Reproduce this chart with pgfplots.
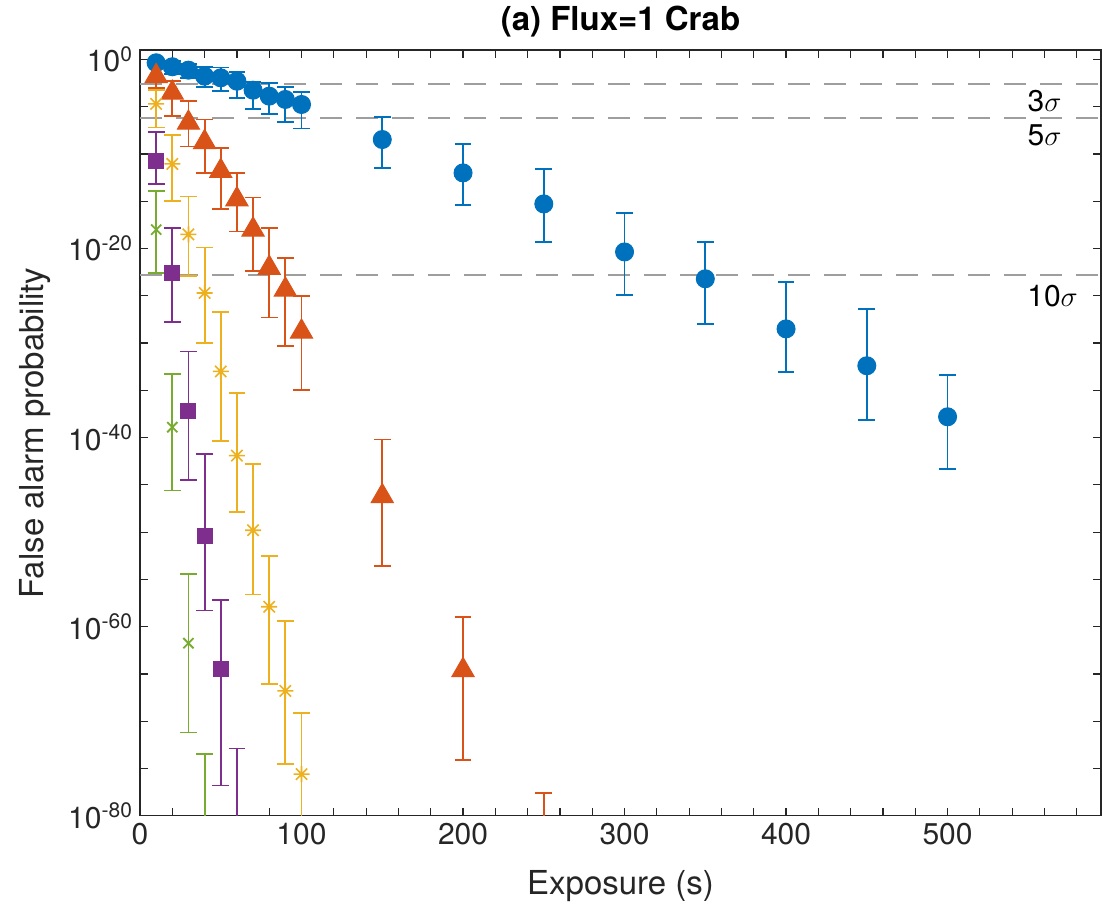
\documentclass[border=0pt]{standalone}
\usepackage{fontspec}
\setmainfont{TeX Gyre Heros}
\usepackage{pgfplots}
\usepackage{pgfplotstable}
\pgfplotsset{compat=1.18}
\definecolor{mblue}{rgb}{0,0.447,0.741}
\definecolor{morange}{rgb}{0.85,0.325,0.098}
\definecolor{myellow}{rgb}{0.929,0.694,0.125}
\definecolor{mpurple}{rgb}{0.494,0.184,0.556}
\definecolor{mgreen}{rgb}{0.466,0.674,0.188}
\definecolor{axgray}{rgb}{0.15,0.15,0.15}
\definecolor{dashgray}{rgb}{0.62,0.62,0.62}
\pgfdeclareplotmark{ast8}{%
  \pgfpathmoveto{\pgfqpoint{-\pgfplotmarksize}{0pt}}\pgfpathlineto{\pgfqpoint{\pgfplotmarksize}{0pt}}%
  \pgfpathmoveto{\pgfqpoint{0pt}{-\pgfplotmarksize}}\pgfpathlineto{\pgfqpoint{0pt}{\pgfplotmarksize}}%
  \pgfpathmoveto{\pgfqpoint{-.707\pgfplotmarksize}{-.707\pgfplotmarksize}}\pgfpathlineto{\pgfqpoint{.707\pgfplotmarksize}{.707\pgfplotmarksize}}%
  \pgfpathmoveto{\pgfqpoint{-.707\pgfplotmarksize}{.707\pgfplotmarksize}}\pgfpathlineto{\pgfqpoint{.707\pgfplotmarksize}{-.707\pgfplotmarksize}}%
  \pgfusepathqstroke}
% values are log10 of the false alarm probability
\pgfplotstableread{
x y lo hi
10 -0.35 -0.8 0.0
20 -0.77 -1.5 -0.2
30 -1.13 -2.0 -0.45
40 -1.77 -2.9 -0.77
50 -1.94 -3.35 -0.85
60 -2.3 -4.05 -1.3
70 -3.25 -5.2 -2.4
80 -3.88 -5.8 -2.47
90 -4.23 -6.6 -2.93
100 -4.76 -7.3 -3.42
150 -8.47 -11.47 -6.07
200 -12.0 -15.42 -8.92
250 -15.28 -19.34 -11.57
300 -20.36 -24.9 -16.2
350 -23.2 -27.97 -19.34
400 -28.5 -33.06 -23.5
450 -32.4 -38.1 -26.4
500 -37.8 -43.3 -33.35
}\blueT
\pgfplotstableread{
x y lo hi
10 -1.77 -3.0 -0.7
20 -3.53 -6.0 -2.3
30 -6.7 -9.2 -4.4
40 -8.75 -12.0 -6.35
50 -11.8 -15.8 -9.35
60 -14.8 -18.2 -12.0
70 -18.0 -22.4 -14.6
80 -22.05 -27.3 -17.8
90 -24.35 -30.35 -21.0
100 -28.8 -35.0 -25.0
150 -46.2 -53.6 -40.2
200 -64.6 -74.1 -59.0
250 -84 -95 -77.6
}\orangeT
\pgfplotstableread{
x y lo hi
10 -4.7 -7.2 -3.2
20 -11.05 -15.0 -7.95
30 -18.5 -22.9 -14.5
40 -24.7 -30.0 -19.9
50 -33.0 -40.4 -26.75
60 -41.9 -47.9 -35.3
70 -49.8 -56.6 -42.8
80 -57.9 -66.1 -52.5
90 -66.8 -74.5 -59.4
100 -75.6 -85 -69.1
}\yellowT
\pgfplotstableread{
x y lo hi
10 -10.77 -13.2 -7.65
20 -22.6 -27.8 -17.8
30 -37.2 -44.5 -30.9
40 -50.4 -58.3 -41.7
50 -64.5 -76.8 -57.2
60 -82 -95 -72.9
}\purpleT
\pgfplotstableread{
x y lo hi
10 -18.0 -22.6 -13.9
20 -38.9 -45.6 -33.3
30 -61.75 -71.2 -54.4
40 -83 -95 -73.5
}\greenT
\begin{document}
\begin{tikzpicture}
\useasboundingbox (0,0) rectangle (551pt,456pt);
\begin{axis}[
  at={(70pt,48.15pt)}, anchor=south west,
  scale only axis, width=480.5pt, height=382.85pt,
  xmin=0, xmax=595, ymin=-80, ymax=1,
  axis line style={axgray, line width=0.6pt},
  tick align=inside,
  major tick length=4pt, minor tick length=4pt,
  every tick/.style={axgray, line width=0.6pt},
  xtick={0,100,...,500},
  minor xtick={0,20,...,580},
  ytick={-80,-60,-40,-20,0},
  yticklabels={10\textsuperscript{-80},10\textsuperscript{-60},10\textsuperscript{-40},10\textsuperscript{-20},10\textsuperscript{0}},
  minor ytick={-75,-70,-65,-55,-50,-45,-35,-30,-25,-15,-10,-5},
  ticklabel style={font=\fontsize{15}{18}\selectfont, text=axgray},
  xticklabel style={/pgf/number format/assume math mode=true},
  xlabel={Exposure (s)},
  ylabel={False alarm probability},
  xlabel style={font=\fontsize{16.5}{20}\selectfont, text=axgray, at={(axis description cs:0.5,-0.0914)}, anchor=center},
  ylabel style={font=\fontsize{16.5}{20}\selectfont, text=axgray, at={(axis description cs:-0.109,0.5)}, anchor=center},
  title={(a) Flux=1 Crab},
  title style={font=\fontsize{16.5}{20}\selectfont\bfseries, at={(axis description cs:0.5,1.042)}, anchor=center, yshift=-8pt},
  clip=true,
  error bars/y dir=both,
  error bars/y explicit,
  error bars/error mark=-,
  error bars/error bar style={line width=0.9pt},
  error bars/error mark options={rotate=90, line width=0.9pt, mark size=4.2pt},
]
\addplot[dashgray, line width=1pt, dash pattern=on 11pt off 7pt] coordinates {(0,-2.57) (595,-2.57)};
\addplot[dashgray, line width=1pt, dash pattern=on 11pt off 7pt] coordinates {(0,-6.24) (595,-6.24)};
\addplot[dashgray, line width=1pt, dash pattern=on 11pt off 7pt] coordinates {(0,-22.82) (595,-22.82)};
\addplot[mblue, only marks, mark=*, mark size=4.5pt, mark options={fill=mblue, draw=mblue, line width=0.5pt}]
  table[x=x, y=y, y error plus expr=\thisrow{hi}-\thisrow{y}, y error minus expr=\thisrow{y}-\thisrow{lo}] {\blueT};
\addplot[morange, only marks, mark=triangle*, mark size=6.4pt, mark options={fill=morange, draw=morange, line width=0.5pt}]
  table[x=x, y=y, y error plus expr=\thisrow{hi}-\thisrow{y}, y error minus expr=\thisrow{y}-\thisrow{lo}] {\orangeT};
\addplot[myellow, only marks, mark=ast8, mark size=4pt, mark options={draw=myellow, line width=0.8pt}]
  table[x=x, y=y, y error plus expr=\thisrow{hi}-\thisrow{y}, y error minus expr=\thisrow{y}-\thisrow{lo}] {\yellowT};
\addplot[mpurple, only marks, mark=square*, mark size=3.75pt, mark options={fill=mpurple, draw=mpurple, line width=0.5pt}]
  table[x=x, y=y, y error plus expr=\thisrow{hi}-\thisrow{y}, y error minus expr=\thisrow{y}-\thisrow{lo}] {\purpleT};
\addplot[mgreen, only marks, mark=x, mark size=3.6pt, mark options={draw=mgreen, line width=0.9pt}]
  table[x=x, y=y, y error plus expr=\thisrow{hi}-\thisrow{y}, y error minus expr=\thisrow{y}-\thisrow{lo}] {\greenT};
\node[font=\fontsize{15}{18}\selectfont, text=black] at (axis cs:560,-4.39) {3$\sigma$};
\node[font=\fontsize{15}{18}\selectfont, text=black] at (axis cs:560,-8.0) {5$\sigma$};
\node[font=\fontsize{15}{18}\selectfont, text=black] at (axis cs:565,-25.0) {10$\sigma$};
\end{axis}
\end{tikzpicture}
\end{document}
